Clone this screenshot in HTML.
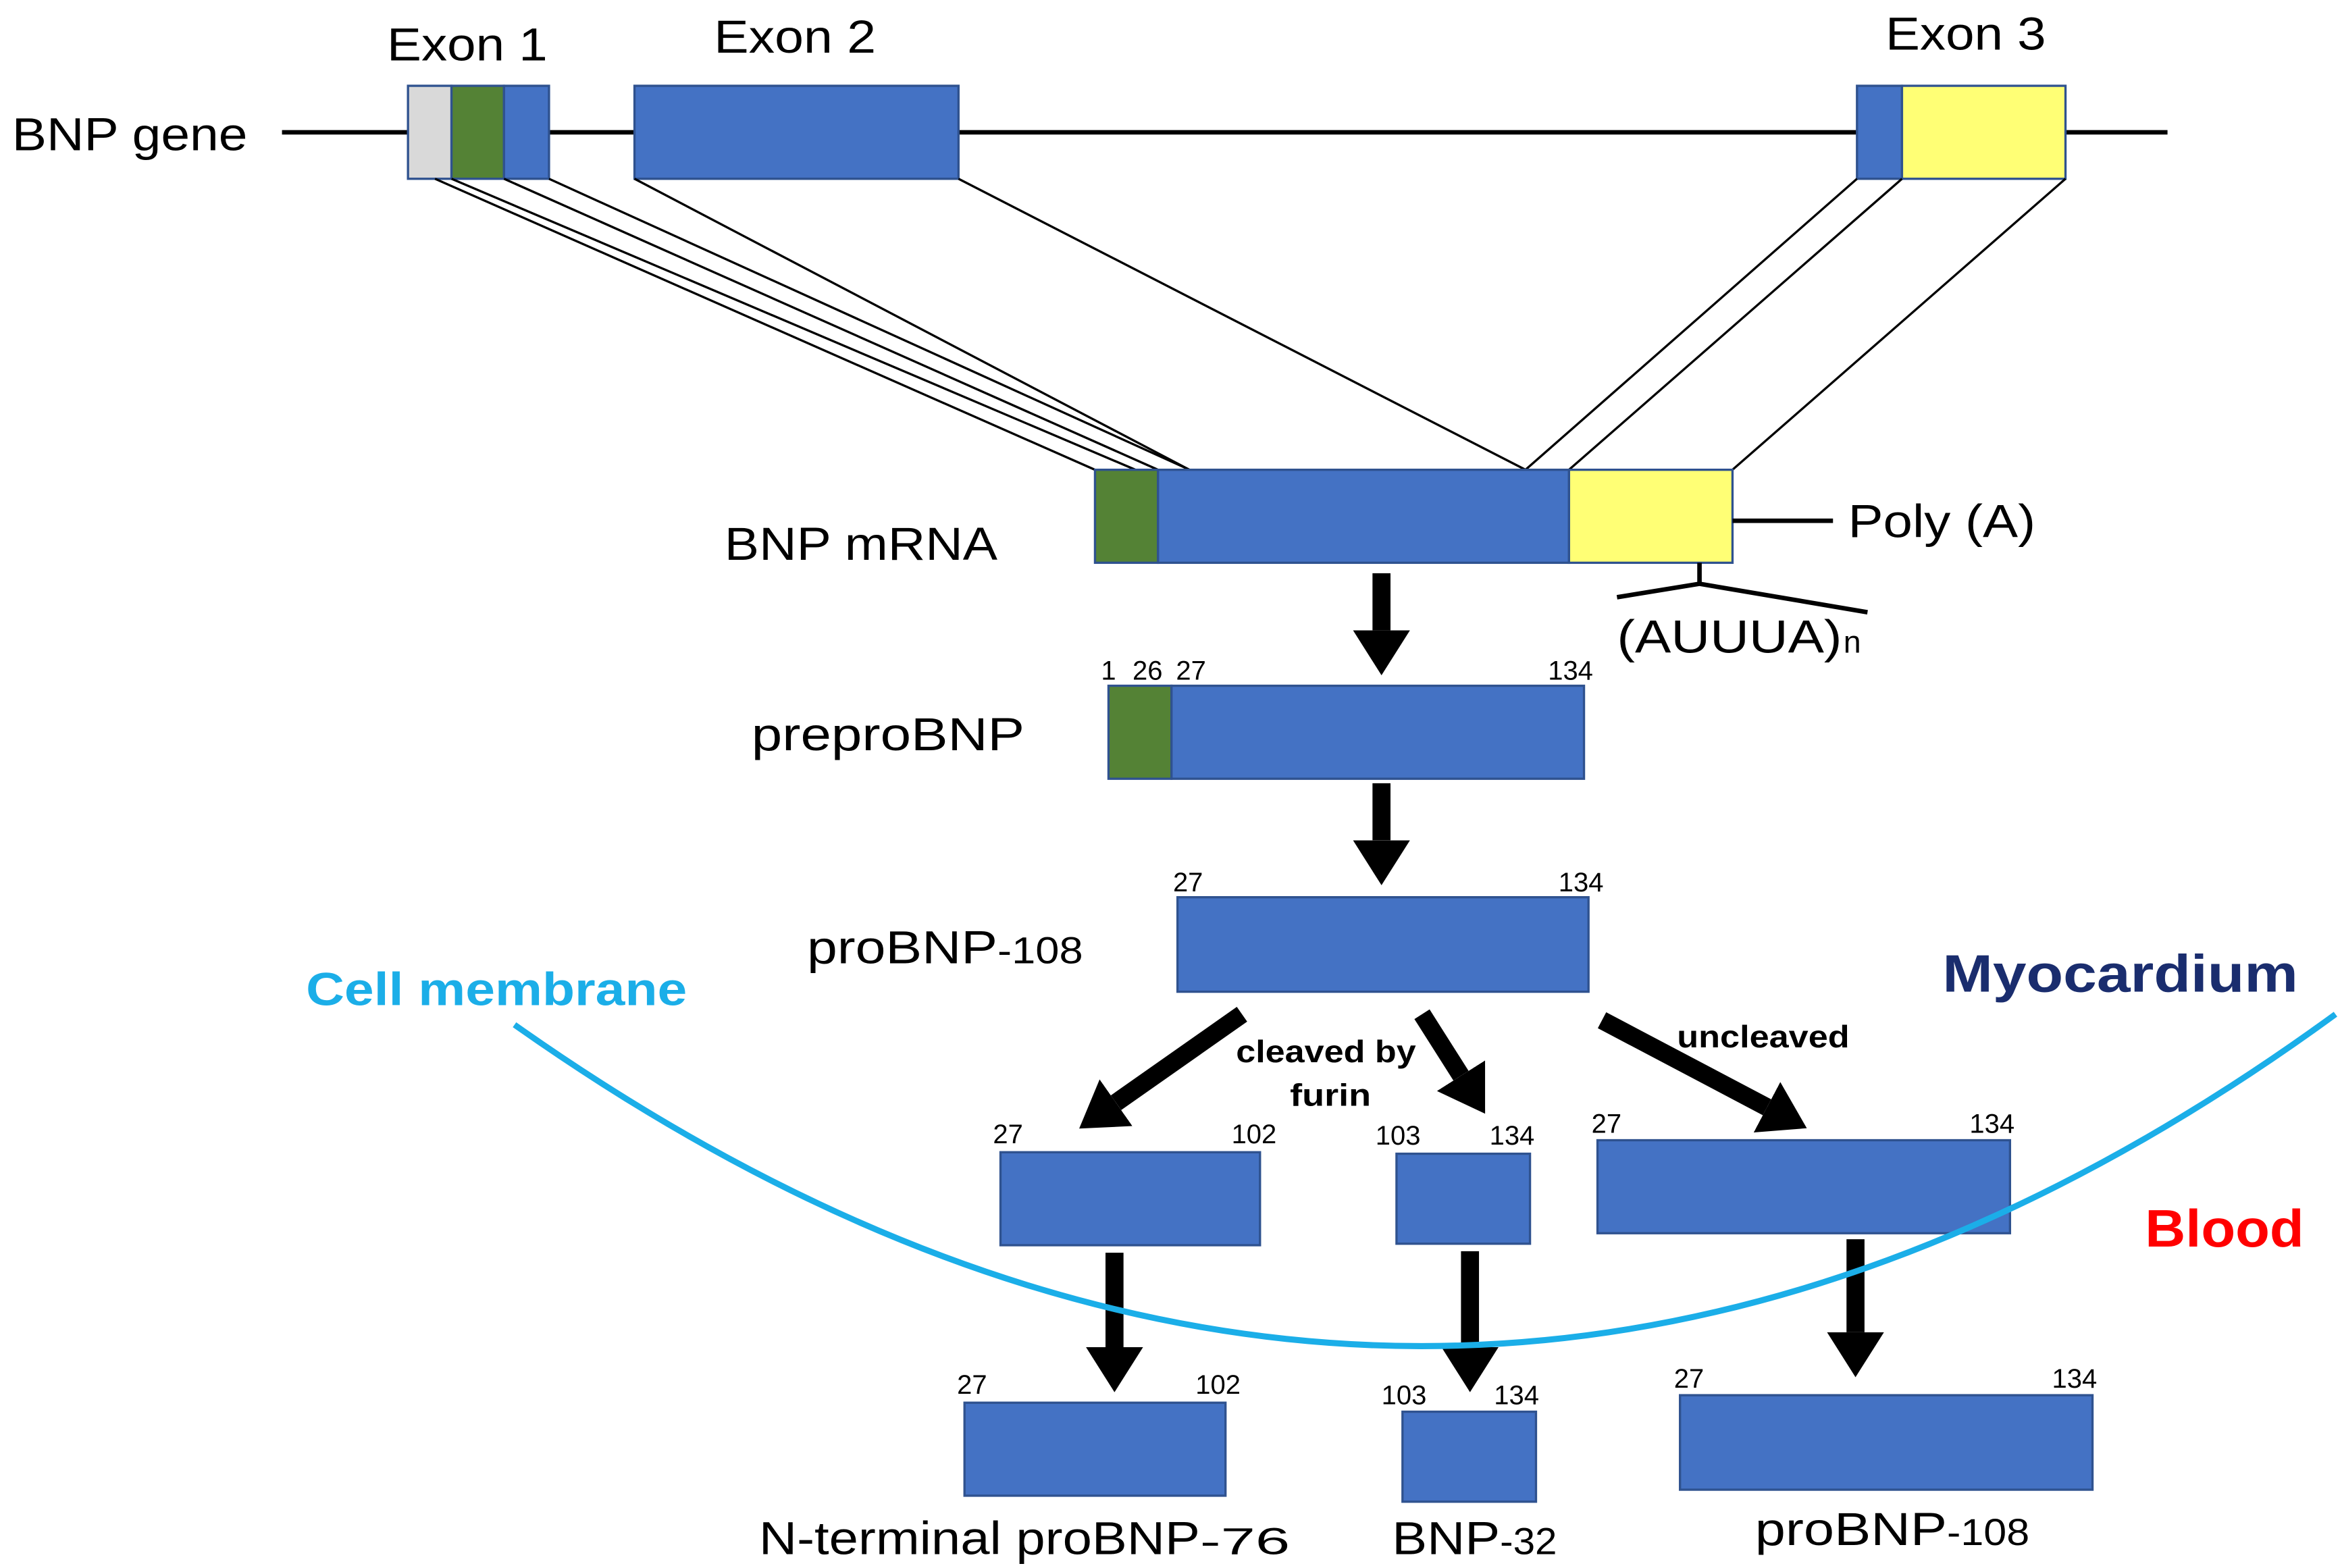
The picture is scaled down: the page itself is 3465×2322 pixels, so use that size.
<!DOCTYPE html>
<html><head><meta charset="utf-8"><style>
html,body{margin:0;padding:0;background:#fff}
svg{display:block}
text{font-family:"Liberation Sans",sans-serif}
</style></head><body>
<svg width="3465" height="2322" viewBox="0 0 1560 1045" xmlns="http://www.w3.org/2000/svg">
<defs>
<marker id="ah" markerUnits="userSpaceOnUse" markerWidth="30" markerHeight="38" refX="0" refY="19" orient="auto">
<path d="M0,0 L30,19 L0,38 z" fill="#000"/>
</marker>
</defs>
<rect width="1560" height="1045" fill="#fff"/>
<line x1="188" y1="88" x2="1445" y2="88" stroke="#000" stroke-width="3"/>
<g lengthAdjust="spacingAndGlyphs">
<text x="8" y="100" font-size="31" textLength="157" lengthAdjust="spacingAndGlyphs">BNP gene</text>
<text x="258" y="40" font-size="31" textLength="107" lengthAdjust="spacingAndGlyphs">Exon 1</text>
<text x="476" y="35" font-size="31" textLength="108" lengthAdjust="spacingAndGlyphs">Exon 2</text>
<text x="1257" y="33" font-size="31" textLength="107" lengthAdjust="spacingAndGlyphs">Exon 3</text>
</g>
<g stroke="#2F528F" stroke-width="1.5">
<rect x="272" y="57" width="29" height="62" fill="#D9D9D9"/>
<rect x="301" y="57" width="35" height="62" fill="#548235"/>
<rect x="336" y="57" width="30" height="62" fill="#4472C4"/>
<rect x="423" y="57" width="216" height="62" fill="#4472C4"/>
<rect x="1238" y="57" width="30" height="62" fill="#4472C4"/>
<rect x="1268" y="57" width="109" height="62" fill="#FFFF75"/>
</g>
<g stroke="#000" stroke-width="1.5">
<line x1="290" y1="119" x2="730" y2="313"/>
<line x1="301" y1="119" x2="757" y2="313"/>
<line x1="336" y1="119" x2="772" y2="313"/>
<line x1="366" y1="119" x2="793" y2="313"/>
<line x1="423" y1="119" x2="793" y2="313"/>
<line x1="639" y1="119" x2="1017" y2="313"/>
<line x1="1238" y1="119" x2="1017" y2="313"/>
<line x1="1268" y1="119" x2="1046" y2="313"/>
<line x1="1377" y1="119" x2="1155" y2="313"/>
</g>
<g stroke="#2F528F" stroke-width="1.5">
<rect x="730" y="313" width="42" height="62" fill="#548235"/>
<rect x="772" y="313" width="274" height="62" fill="#4472C4"/>
<rect x="1046" y="313" width="109" height="62" fill="#FFFF75"/>
</g>
<line x1="1155" y1="347" x2="1222" y2="347" stroke="#000" stroke-width="3"/>
<text x="1232" y="358" font-size="31" textLength="125" lengthAdjust="spacingAndGlyphs">Poly (A)</text>
<text x="483" y="373" font-size="31" textLength="182" lengthAdjust="spacingAndGlyphs">BNP mRNA</text>
<path d="M1133,375 V389 M1078,398 L1133,389 L1245,408" stroke="#000" stroke-width="3" fill="none"/>
<text x="1078" y="435" font-size="31" textLength="150" lengthAdjust="spacingAndGlyphs">(AUUUA)</text>
<text x="1229" y="435" font-size="21">n</text>
<g stroke="#000" stroke-width="12" marker-end="url(#ah)">
<line x1="921" y1="382" x2="921" y2="420"/>
<line x1="921" y1="522" x2="921" y2="560"/>
<line x1="828" y1="676" x2="744" y2="735"/>
<line x1="948" y1="676" x2="974" y2="717"/>
<line x1="1068" y1="680" x2="1178" y2="738"/>
<line x1="743" y1="835" x2="743" y2="898"/>
<line x1="980" y1="834" x2="980" y2="898"/>
<line x1="1237" y1="826" x2="1237" y2="888"/>
</g>
<g stroke="#2F528F" stroke-width="1.5">
<rect x="739" y="457" width="42" height="62" fill="#548235"/>
<rect x="781" y="457" width="275" height="62" fill="#4472C4"/>
<rect x="785" y="598" width="274" height="63" fill="#4472C4"/>
<rect x="667" y="768" width="173" height="62" fill="#4472C4"/>
<rect x="931" y="769" width="89" height="60" fill="#4472C4"/>
<rect x="1065" y="760" width="275" height="62" fill="#4472C4"/>
<rect x="643" y="935" width="174" height="62" fill="#4472C4"/>
<rect x="935" y="941" width="89" height="60" fill="#4472C4"/>
<rect x="1120" y="930" width="275" height="63" fill="#4472C4"/>
</g>
<g font-size="18">
<text x="734" y="453">1</text><text x="755" y="453">26</text><text x="784" y="453">27</text><text x="1032" y="453">134</text>
<text x="782" y="594">27</text><text x="1039" y="594">134</text>
<text x="662" y="762">27</text><text x="821" y="762">102</text>
<text x="917" y="763">103</text><text x="993" y="763">134</text>
<text x="1061" y="755">27</text><text x="1313" y="755">134</text>
<text x="638" y="929">27</text><text x="797" y="929">102</text>
<text x="921" y="936">103</text><text x="996" y="936">134</text>
<text x="1116" y="925">27</text><text x="1368" y="925">134</text>
</g>
<text x="501" y="500" font-size="31" textLength="182" lengthAdjust="spacingAndGlyphs">preproBNP</text>
<text x="538" y="642" font-size="31" textLength="127" lengthAdjust="spacingAndGlyphs">proBNP</text>
<text x="665" y="642" font-size="25" textLength="57" lengthAdjust="spacingAndGlyphs">-108</text>
<path d="M343,683 Q955,1115 1557,676" stroke="#1BAEE8" stroke-width="4" fill="none"/>
<text x="204" y="670" font-size="31" font-weight="bold" fill="#1BAEE8" textLength="254" lengthAdjust="spacingAndGlyphs">Cell membrane</text>
<text x="1295" y="661" font-size="35" font-weight="bold" fill="#1A2D6E" textLength="237" lengthAdjust="spacingAndGlyphs">Myocardium</text>
<text x="1430" y="831" font-size="35" font-weight="bold" fill="#FF0000" textLength="106" lengthAdjust="spacingAndGlyphs">Blood</text>
<text x="824" y="708" font-size="21" font-weight="bold" textLength="120" lengthAdjust="spacingAndGlyphs">cleaved by</text>
<text x="860" y="737" font-size="21" font-weight="bold" textLength="54" lengthAdjust="spacingAndGlyphs">furin</text>
<text x="1118" y="698" font-size="21" font-weight="bold" textLength="115" lengthAdjust="spacingAndGlyphs">uncleaved</text>
<text x="506" y="1036" font-size="31" textLength="294" lengthAdjust="spacingAndGlyphs">N-terminal proBNP</text>
<text x="800" y="1036" font-size="25" textLength="60" lengthAdjust="spacingAndGlyphs">-76</text>
<text x="928" y="1036" font-size="31" textLength="72" lengthAdjust="spacingAndGlyphs">BNP</text>
<text x="1000" y="1036" font-size="25" textLength="38" lengthAdjust="spacingAndGlyphs">-32</text>
<text x="1170" y="1030" font-size="31" textLength="128" lengthAdjust="spacingAndGlyphs">proBNP</text>
<text x="1298" y="1030" font-size="25" textLength="55" lengthAdjust="spacingAndGlyphs">-108</text>
</svg>
</body></html>
